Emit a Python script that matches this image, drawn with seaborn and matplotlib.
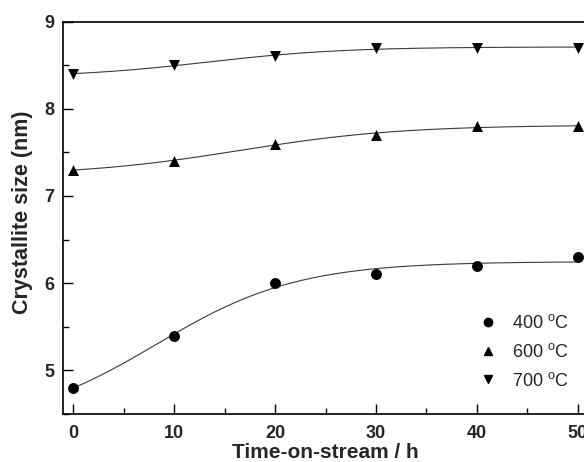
import numpy as np
import pandas as pd
import matplotlib
matplotlib.use("Agg")
import matplotlib.pyplot as plt
from matplotlib.ticker import MultipleLocator
from matplotlib.lines import Line2D
import seaborn as sns

# Crystallite size vs. time-on-stream for three calcination temperatures
time_h = [0, 10, 20, 30, 40, 50]
size_400 = [4.8, 5.4, 6.0, 6.1, 6.2, 6.3]
size_600 = [7.3, 7.4, 7.6, 7.7, 7.8, 7.8]
size_700 = [8.4, 8.5, 8.6, 8.7, 8.7, 8.7]
labels = ["400 $^{\\mathrm{o}}$C", "600 $^{\\mathrm{o}}$C", "700 $^{\\mathrm{o}}$C"]
markers = ["o", "^", "v"]

sns.set_theme(style="ticks")
plt.rcParams["font.family"] = ["Liberation Sans", "DejaVu Sans"]
plt.rcParams["mathtext.fontset"] = "custom"
plt.rcParams["mathtext.rm"] = "Liberation Sans"


def boltzmann_fit(x, y):
    """Least-squares Boltzmann sigmoid: y = A2 + (A1 - A2) / (1 + exp((x - x0) / dx))."""
    x = np.asarray(x, float)
    y = np.asarray(y, float)
    best = None
    for x0 in np.linspace(-30, 60, 361):
        for dx in np.linspace(1, 40, 157):
            s = 1.0 / (1.0 + np.exp((x - x0) / dx))
            M = np.column_stack([s, 1 - s])
            coef, *_ = np.linalg.lstsq(M, y, rcond=None)
            r = np.sum((M @ coef - y) ** 2)
            if best is None or r < best[0]:
                best = (r, coef[0], coef[1], x0, dx)
    _, a1, a2, x0, dx = best
    return lambda t: a2 + (a1 - a2) / (1.0 + np.exp((t - x0) / dx))


fig = plt.figure(figsize=(5.84, 4.62), dpi=100)
ax = fig.add_axes([63 / 584, 1 - 414 / 462, (588 - 63) / 584, (414 - 21.5) / 462])

t_fine = np.linspace(0, 50, 300)
for lab, mk, vals in zip(labels, markers, [size_400, size_600, size_700]):
    f = boltzmann_fit(time_h, vals)
    fit_df = pd.DataFrame({"t": t_fine, "s": f(t_fine)})
    sns.lineplot(data=fit_df, x="t", y="s", ax=ax, color="#3a3a3a", linewidth=0.8)
    pts = pd.DataFrame({"t": time_h, "s": vals})
    sns.scatterplot(data=pts, x="t", y="s", ax=ax, marker=mk, color="black",
                    s=62, edgecolor="black", linewidth=0, zorder=3)

ax.set_xlim(-1, 51)
ax.set_ylim(4.5, 9)
ax.xaxis.set_major_locator(MultipleLocator(10))
ax.xaxis.set_minor_locator(MultipleLocator(5))
ax.yaxis.set_major_locator(MultipleLocator(1))
ax.yaxis.set_minor_locator(MultipleLocator(0.5))
ax.tick_params(which="both", direction="in", top=False, right=False, width=1.0, color="black")
ax.tick_params(which="major", length=7, labelsize=13)
ax.tick_params(axis="x", which="major", pad=8)
ax.tick_params(axis="y", which="major", pad=6)
ax.tick_params(which="minor", length=4)
for lbl in ax.get_xticklabels() + ax.get_yticklabels():
    lbl.set_fontweight("bold")
for side in ["left", "bottom", "top"]:
    ax.spines[side].set_linewidth(1.2)
    ax.spines[side].set_color("black")
ax.spines["right"].set_visible(False)

ax.set_xlabel("Time-on-stream / h", fontsize=15, fontweight="bold")
ax.xaxis.set_label_coords(0.5, -0.074)
ax.set_ylabel("Crystallite size (nm)", fontsize=15.5, fontweight="bold")
ax.yaxis.set_label_coords(-0.058, 0.515)

handles = [Line2D([], [], linestyle="none", marker=m, color="black", markersize=6)
           for m in markers]
fig.legend(handles, labels, loc="upper left", bbox_to_anchor=(470 / 584, 1 - 305 / 462),
           frameon=False, fontsize=13, handlelength=1.0, handletextpad=0.8,
           labelspacing=0.6, borderpad=0)

fig.savefig("out.png", dpi=100)
